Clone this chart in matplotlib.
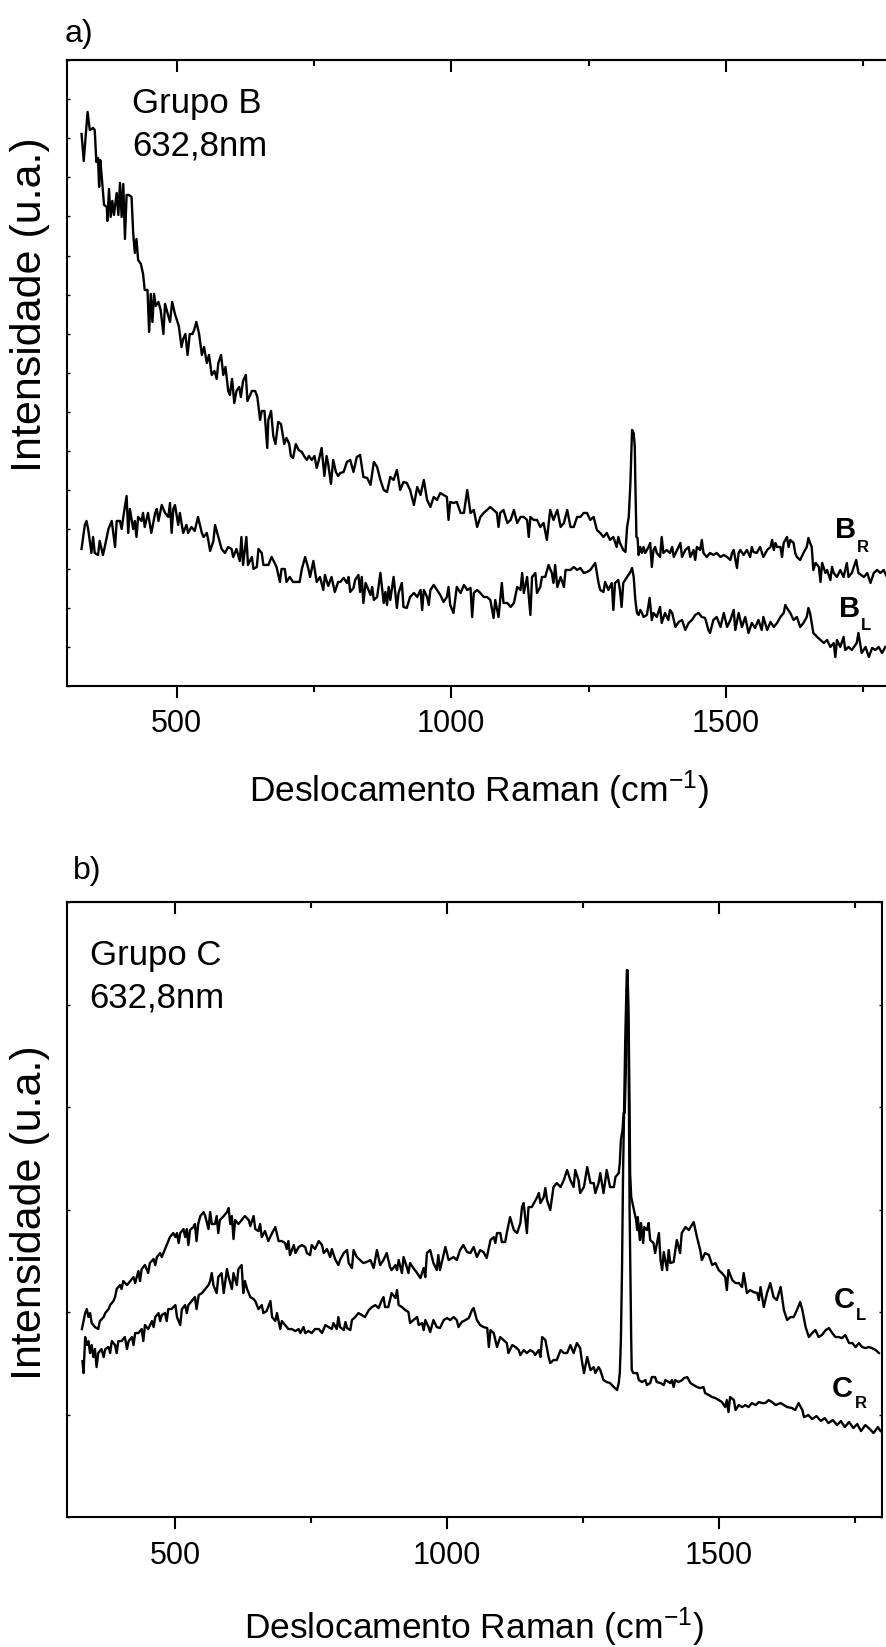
import numpy as np
import matplotlib
matplotlib.use('Agg')
import matplotlib.pyplot as plt
from matplotlib.ticker import FixedLocator

plt.rcParams['font.family'] = ['Liberation Sans', 'DejaVu Sans']
plt.rcParams['mathtext.fontset'] = 'custom'
plt.rcParams['mathtext.rm'] = 'Liberation Sans'
plt.rcParams['mathtext.it'] = 'Liberation Sans:italic'
plt.rcParams['mathtext.bf'] = 'Liberation Sans:bold'

# (Raman shift cm-1, intensity u.a.)
# Grupo B
b_r = np.array([
    (327, 552), (331, 525), (338, 574), (342, 556), (348, 558), (351, 556), (354, 524), (357, 528), (359, 499),
    (361, 526), (363, 514), (368, 481), (373, 479), (374, 465), (377, 497), (380, 469), (383, 485), (386, 471),
    (391, 493), (394, 471), (397, 503), (400, 469), (403, 502), (406, 447), (409, 491), (413, 491), (418, 489),
    (421, 453), (424, 433), (427, 447), (430, 426), (435, 422), (439, 412), (442, 396), (447, 396), (450, 354),
    (453, 392), (456, 364), (459, 392), (462, 380), (467, 384), (471, 376), (476, 352), (479, 382), (484, 372),
    (488, 364), (492, 384), (497, 372), (504, 360), (509, 339), (512, 347), (516, 352), (520, 331), (524, 352),
    (529, 352), (532, 356), (536, 364), (541, 352), (546, 331), (550, 339), (555, 323), (559, 331), (564, 311),
    (569, 315), (573, 307), (576, 323), (581, 331), (585, 311), (589, 319), (594, 295), (597, 291), (601, 307),
    (605, 283), (609, 295), (614, 299), (617, 289), (621, 305), (626, 311), (629, 285), (634, 291), (637, 295),
    (643, 295), (647, 289), (652, 266), (655, 275), (660, 275), (665, 238), (667, 266), (672, 275), (676, 250),
    (680, 242), (685, 264), (690, 262), (696, 242), (700, 248), (705, 242), (708, 230), (712, 228), (717, 242),
    (722, 236), (728, 234), (732, 230), (737, 226), (741, 230), (746, 226), (751, 230), (755, 218), (759, 226),
    (764, 238), (769, 210), (773, 230), (776, 222), (781, 202), (785, 226), (790, 214), (794, 210),
    (798, 213), (804, 214), (810, 224), (816, 226), (822, 214), (828, 229), (834, 231), (840, 209), (847, 208),
    (853, 201), (859, 224), (865, 219), (871, 206), (877, 196), (883, 194), (889, 209), (895, 206), (901, 216),
    (907, 196), (913, 204), (919, 203), (925, 196), (932, 181), (938, 199), (944, 191), (950, 206), (956, 186),
    (962, 179), (968, 189), (974, 186), (980, 193), (986, 191), (992, 189), (995, 166), (998, 184), (1004, 183),
    (1010, 184), (1017, 173), (1023, 173), (1029, 196), (1035, 173), (1041, 176), (1047, 159), (1053, 169),
    (1059, 173), (1065, 176), (1071, 179), (1077, 176), (1083, 173), (1086, 159), (1089, 173), (1095, 176),
    (1102, 163), (1108, 166), (1114, 176), (1120, 163), (1126, 169), (1132, 169), (1138, 166), (1141, 149),
    (1144, 169), (1150, 166), (1156, 166), (1162, 159), (1168, 163), (1174, 146), (1180, 176), (1186, 166),
    (1193, 176), (1199, 159), (1205, 163), (1211, 176), (1217, 159), (1223, 159), (1229, 169), (1235, 169),
    (1241, 173), (1247, 173), (1253, 166), (1259, 169), (1265, 156),
    (1271, 153), (1277, 149), (1283, 153), (1289, 146), (1295, 149), (1301, 139), (1304, 149), (1307, 143),
    (1313, 136), (1317, 134), (1320, 159), (1323, 169), (1326, 203), (1329, 256), (1332, 253), (1334, 239),
    (1335, 203), (1337, 149), (1339, 148), (1341, 131), (1344, 139), (1347, 133), (1350, 139), (1353, 133),
    (1356, 136), (1359, 139), (1362, 143), (1365, 119), (1368, 136), (1371, 139), (1374, 133), (1380, 129),
    (1383, 149), (1386, 133), (1392, 136), (1398, 133), (1402, 139), (1405, 129), (1411, 136), (1417, 143),
    (1420, 129), (1426, 136), (1432, 139), (1435, 129), (1441, 136), (1444, 126), (1447, 139), (1453, 136),
    (1456, 146), (1459, 133), (1465, 129), (1471, 133), (1477, 131), (1483, 133), (1490, 129), (1496, 131),
    (1502, 129), (1508, 126), (1511, 133), (1514, 136), (1520, 118), (1523, 133), (1526, 136), (1532, 131),
    (1538, 136), (1544, 129), (1547, 139), (1550, 134), (1556, 133), (1562, 139), (1568, 129), (1575, 136),
    (1581, 139), (1584, 146), (1587, 136), (1590, 143), (1593, 139), (1599, 139), (1602, 129), (1605, 143),
    (1611, 149), (1614, 139), (1617, 146), (1623, 143), (1626, 133), (1629, 129), (1635, 126), (1641, 133),
    (1647, 139), (1650, 148), (1653, 143), (1656, 139), (1659, 116), (1663, 123), (1669, 119), (1672, 104),
    (1675, 123), (1681, 113), (1684, 116), (1690, 106), (1693, 119), (1696, 113), (1702, 109), (1708, 116),
    (1714, 109), (1720, 123), (1723, 109), (1729, 113), (1737, 126), (1741, 113), (1751, 109), (1757, 113),
    (1763, 103), (1769, 113), (1775, 116), (1781, 113), (1787, 116), (1793, 109),
])

b_l = np.array([
    (327, 137), (333, 161), (336, 165), (339, 157), (345, 133), (348, 149), (351, 133), (357, 131), (360, 145),
    (366, 131), (370, 141), (376, 157), (382, 165), (388, 139), (391, 165), (397, 165), (400, 157), (403, 169),
    (409, 190), (412, 153), (415, 177), (421, 157), (424, 165), (427, 149), (430, 169), (436, 165), (439, 173),
    (442, 159), (448, 173), (454, 153), (461, 173), (464, 177), (467, 165), (473, 181), (479, 173), (485, 169),
    (488, 183), (491, 153), (494, 177), (497, 181), (503, 161), (506, 173), (512, 153), (518, 161), (521, 153),
    (527, 159), (533, 155), (539, 169), (546, 153), (549, 149), (555, 153), (558, 145), (561, 135), (567, 145),
    (570, 161), (576, 149), (582, 137), (588, 133), (594, 139), (600, 137), (603, 129), (609, 137), (615, 125),
    (618, 149), (621, 121), (627, 149), (630, 121), (637, 129), (640, 117), (646, 119), (649, 137), (655, 133),
    (658, 121), (667, 121), (673, 129), (682, 119), (688, 104), (691, 117), (697, 117), (700, 104), (706, 109),
    (712, 104), (718, 104), (724, 104), (728, 117), (734, 129), (740, 117), (743, 109), (749, 125), (755, 104),
    (761, 109), (767, 96), (770, 111), (776, 100), (782, 109), (788, 94), (794, 104),
    (798, 104), (804, 108), (810, 103), (813, 109), (816, 94), (822, 98), (825, 106), (831, 111), (834, 94),
    (837, 109), (840, 83), (844, 103), (853, 91), (856, 99), (859, 86), (865, 89), (871, 113), (877, 83),
    (880, 94), (883, 81), (886, 99), (889, 86), (895, 109), (901, 78), (904, 93), (910, 103), (913, 79),
    (919, 78), (925, 89), (932, 93), (938, 89), (944, 96), (947, 76), (950, 96), (956, 89), (959, 81), (962, 96),
    (968, 101), (974, 96), (980, 91), (986, 84), (992, 89), (995, 99), (998, 81), (1004, 73), (1010, 99),
    (1017, 93), (1023, 101), (1029, 96), (1035, 98), (1038, 69), (1041, 93), (1047, 96), (1053, 93), (1059, 89),
    (1065, 89), (1071, 86), (1077, 68), (1080, 86), (1086, 69), (1092, 103), (1095, 83), (1102, 83), (1108, 79),
    (1114, 83), (1120, 99), (1126, 96), (1129, 113), (1132, 93), (1138, 109), (1144, 71), (1147, 109),
    (1153, 113), (1156, 93), (1162, 99), (1165, 109), (1171, 109), (1177, 121), (1183, 113), (1186, 103),
    (1189, 121), (1193, 99), (1199, 109), (1205, 99), (1208, 116), (1217, 116), (1223, 119), (1229, 116),
    (1235, 118), (1241, 113), (1247, 114), (1253, 116), (1262, 123), (1268, 103),
    (1271, 96), (1277, 94), (1280, 104), (1286, 96), (1292, 103), (1295, 76), (1298, 103), (1304, 106),
    (1307, 96), (1310, 79), (1313, 103), (1320, 109), (1326, 114), (1329, 118), (1332, 109), (1335, 86),
    (1338, 73), (1341, 71), (1344, 76), (1347, 73), (1350, 69), (1356, 71), (1361, 88), (1365, 66), (1368, 73),
    (1374, 69), (1380, 79), (1383, 63), (1389, 73), (1395, 66), (1398, 76), (1402, 73), (1408, 59), (1414, 64),
    (1420, 66), (1426, 56), (1432, 63), (1438, 66), (1444, 71), (1450, 73), (1456, 69), (1462, 68), (1468, 56),
    (1471, 53), (1477, 66), (1483, 69), (1490, 59), (1496, 73), (1502, 59), (1508, 66), (1514, 76), (1517, 56),
    (1523, 73), (1529, 59), (1535, 69), (1541, 53), (1547, 63), (1553, 58), (1559, 66), (1565, 56), (1568, 69),
    (1575, 56), (1581, 64), (1587, 59), (1593, 63), (1599, 69), (1605, 73), (1608, 81), (1611, 78), (1617, 73),
    (1623, 66), (1629, 69), (1635, 59), (1641, 63), (1647, 69), (1650, 78), (1653, 73), (1659, 53), (1666, 49),
    (1672, 46), (1678, 43), (1684, 46), (1690, 39), (1696, 43), (1699, 29), (1702, 46), (1708, 39), (1714, 49),
    (1717, 36), (1723, 39), (1729, 36), (1738, 43), (1741, 53), (1747, 33), (1754, 39), (1760, 29), (1766, 38),
    (1772, 36), (1778, 39), (1784, 33), (1790, 39),
])

# Grupo C
c_l = np.array([
    (328, 188), (331, 196), (334, 204), (337, 208), (340, 200), (343, 204), (346, 194), (352, 190), (358, 188),
    (361, 196), (368, 200), (371, 204), (377, 208), (380, 212), (386, 216), (389, 220), (392, 228), (398, 232),
    (401, 228), (404, 236), (411, 232), (417, 236), (423, 240), (426, 234), (432, 246), (435, 236), (438, 248),
    (444, 252), (450, 244), (453, 254), (460, 258), (463, 252), (466, 260), (472, 264), (475, 260), (481, 268),
    (484, 272), (487, 276), (490, 280), (496, 284), (500, 280), (503, 284), (506, 274), (509, 284), (515, 288),
    (518, 280), (521, 288), (524, 272), (527, 287), (533, 290), (536, 293), (539, 276), (542, 293), (546, 301),
    (552, 305), (555, 301), (561, 288), (564, 305), (567, 293), (573, 293), (576, 301), (579, 284), (582, 297),
    (589, 301), (595, 305), (598, 309), (601, 293), (604, 301), (607, 278), (610, 297), (616, 293), (622, 297),
    (628, 301), (635, 297), (638, 291), (644, 301), (647, 288), (653, 286), (656, 293), (659, 280), (665, 286),
    (671, 276), (678, 284), (684, 290), (690, 276), (696, 276), (702, 274), (705, 268), (708, 276), (711, 262),
    (718, 272), (721, 264), (727, 270), (733, 272), (739, 270), (742, 264), (748, 262), (751, 272), (757, 268),
    (764, 276), (770, 272), (773, 264), (779, 268), (785, 260), (788, 268), (794, 258), (800, 252),
    (803, 257), (810, 264), (816, 267), (819, 254), (825, 249), (828, 267), (834, 260), (840, 257), (846, 254),
    (852, 255), (859, 257), (865, 249), (871, 267), (877, 252), (883, 257), (889, 264), (895, 250), (898, 247),
    (905, 252), (908, 247), (911, 257), (917, 244), (920, 260), (926, 250), (929, 244), (932, 254), (938, 249),
    (945, 244), (951, 239), (957, 249), (960, 240), (963, 264), (969, 267), (975, 254), (981, 247), (984, 262),
    (987, 247), (997, 270), (1003, 257), (1012, 260), (1018, 257), (1024, 267), (1030, 272), (1037, 265),
    (1043, 264), (1049, 270), (1055, 260), (1061, 267), (1067, 265), (1073, 259), (1080, 277), (1086, 280),
    (1089, 274), (1092, 284), (1098, 284), (1101, 275), (1107, 275), (1110, 284), (1116, 300), (1123, 287),
    (1129, 284), (1135, 294), (1138, 310), (1141, 314), (1147, 284), (1150, 310), (1156, 310), (1166, 320),
    (1169, 324), (1172, 314), (1178, 320), (1181, 329), (1184, 317), (1190, 307), (1196, 330), (1202, 334),
    (1209, 330), (1215, 337), (1221, 347), (1227, 337), (1233, 330), (1236, 347), (1242, 337), (1245, 324),
    (1252, 330), (1258, 350), (1264, 334), (1270, 334), (1273, 324), (1279, 334),
    (1282, 344), (1288, 324), (1294, 347), (1300, 330), (1307, 330), (1310, 340), (1316, 344), (1318, 354),
    (1320, 377), (1323, 387), (1325, 404), (1327, 404), (1329, 444), (1331, 510), (1332, 547), (1334, 510),
    (1336, 410), (1337, 344), (1339, 320), (1343, 310), (1348, 297), (1350, 287), (1351, 300), (1355, 277),
    (1357, 294), (1361, 274), (1363, 290), (1368, 287), (1371, 294), (1374, 277), (1380, 274), (1383, 264),
    (1390, 284), (1393, 257), (1396, 247), (1399, 265), (1405, 247), (1408, 267), (1411, 254), (1417, 255),
    (1423, 277), (1429, 264), (1432, 284), (1439, 290), (1445, 287), (1454, 295), (1460, 280), (1466, 267),
    (1469, 257), (1475, 264), (1482, 262), (1488, 252), (1494, 254), (1500, 247), (1506, 244), (1512, 240),
    (1515, 227), (1518, 247), (1525, 237), (1531, 234), (1537, 234), (1543, 230), (1546, 244), (1552, 224),
    (1558, 227), (1564, 225), (1571, 224), (1574, 217), (1577, 230), (1583, 210), (1589, 224), (1595, 234),
    (1601, 220), (1607, 217), (1614, 230), (1620, 207), (1626, 197), (1632, 200), (1638, 200), (1644, 207),
    (1650, 215), (1654, 207), (1660, 190), (1666, 180), (1672, 184), (1678, 187), (1684, 180), (1690, 182),
    (1697, 187), (1703, 189), (1709, 184), (1715, 180), (1721, 180), (1727, 179), (1733, 182), (1740, 174),
    (1746, 174), (1752, 170), (1758, 174), (1764, 170), (1770, 169), (1776, 170), (1782, 169), (1789, 167),
    (1795, 164),
])

c_r = np.array([
    (329, 156), (331, 144), (334, 180), (337, 172), (340, 176), (343, 164), (346, 172), (349, 160), (352, 168),
    (355, 150), (358, 164), (364, 168), (368, 160), (371, 168), (377, 170), (380, 164), (383, 176), (389, 172),
    (392, 164), (395, 176), (401, 176), (407, 180), (411, 168), (414, 176), (420, 180), (423, 172), (426, 184),
    (432, 184), (438, 188), (441, 176), (444, 192), (450, 188), (457, 196), (460, 190), (463, 200), (469, 204),
    (472, 196), (475, 202), (481, 204), (484, 196), (487, 208), (493, 208), (500, 212), (503, 200), (509, 192),
    (512, 208), (518, 212), (521, 204), (524, 212), (530, 216), (536, 220), (539, 208), (543, 222), (549, 224),
    (555, 228), (561, 232), (564, 236), (567, 244), (570, 232), (576, 224), (579, 240), (585, 244), (589, 224),
    (592, 236), (595, 248), (598, 240), (604, 228), (607, 244), (613, 232), (616, 248), (622, 252), (625, 224),
    (628, 236), (632, 228), (638, 220), (644, 218), (647, 216), (653, 208), (659, 212), (662, 204), (668, 206),
    (675, 216), (678, 200), (684, 196), (687, 204), (693, 188), (696, 196), (702, 192), (708, 188), (714, 188),
    (721, 186), (727, 188), (730, 184), (736, 190), (739, 184), (745, 186), (751, 184), (757, 188), (764, 188),
    (770, 184), (776, 192), (782, 190), (788, 188), (791, 194), (797, 188), (800, 200),
    (803, 190), (810, 187), (813, 195), (816, 189), (822, 187), (825, 197), (831, 200), (837, 204), (843, 202),
    (849, 200), (856, 207), (862, 210), (868, 212), (874, 209), (880, 217), (883, 220), (886, 210), (892, 210),
    (898, 224), (905, 219), (908, 227), (911, 212), (917, 210), (923, 207), (929, 205), (932, 194), (938, 197),
    (945, 200), (948, 192), (954, 194), (957, 187), (960, 197), (966, 190), (969, 185), (975, 197), (981, 190),
    (987, 189), (994, 197), (1000, 199), (1006, 197), (1012, 200), (1018, 197), (1021, 190), (1027, 195),
    (1034, 197), (1040, 199), (1046, 207), (1049, 209), (1055, 197), (1061, 192), (1067, 190), (1074, 189),
    (1077, 170), (1080, 187), (1086, 184), (1092, 170), (1098, 180), (1104, 177), (1110, 174), (1113, 164),
    (1120, 172), (1126, 170), (1132, 167), (1135, 162), (1141, 167), (1147, 164), (1153, 167), (1159, 165),
    (1162, 162), (1169, 167), (1172, 160), (1175, 180), (1181, 177), (1187, 160), (1190, 154), (1196, 157),
    (1202, 157), (1209, 167), (1215, 164), (1221, 164), (1227, 172), (1233, 164), (1239, 174), (1245, 169),
    (1248, 157), (1252, 144), (1258, 160), (1264, 147), (1270, 150), (1273, 144), (1279, 150),
    (1282, 147), (1288, 137), (1294, 135), (1300, 134), (1307, 130), (1313, 127), (1316, 134), (1318, 144),
    (1320, 177), (1322, 244), (1324, 344), (1326, 410), (1328, 477), (1330, 527), (1331, 547), (1334, 477),
    (1336, 310), (1339, 177), (1340, 147), (1343, 144), (1350, 144), (1353, 137), (1359, 135), (1365, 137),
    (1368, 132), (1374, 134), (1377, 140), (1383, 140), (1386, 135), (1393, 134), (1399, 132), (1402, 137),
    (1411, 134), (1414, 137), (1417, 130), (1420, 137), (1426, 135), (1433, 137), (1436, 139), (1442, 140),
    (1448, 134), (1454, 132), (1460, 130), (1466, 129), (1472, 130), (1475, 124), (1482, 122), (1488, 120),
    (1494, 119), (1500, 117), (1506, 115), (1512, 110), (1515, 117), (1518, 105), (1521, 120), (1528, 117),
    (1531, 107), (1537, 112), (1543, 110), (1549, 112), (1555, 110), (1561, 114), (1568, 112), (1574, 115),
    (1580, 114), (1586, 114), (1592, 117), (1598, 115), (1605, 112), (1614, 114), (1620, 112), (1626, 110),
    (1635, 109), (1641, 107), (1647, 114), (1654, 107), (1657, 100), (1665, 102), (1672, 98), (1680, 101),
    (1688, 96), (1695, 99), (1702, 94), (1710, 97), (1718, 92), (1725, 96), (1732, 90), (1740, 95), (1748, 89),
    (1755, 93), (1762, 86), (1770, 92), (1778, 88), (1785, 84), (1793, 90), (1798, 86),
])

x_major = [500, 1000, 1500]
x_minor = [750, 1250, 1750]
lw = 1.5


def style(ax, ytop, ndiv):
    ax.set_xlim(300, 1800)
    ax.set_ylim(0, ytop)
    for s in ax.spines.values():
        s.set_linewidth(lw)
    ax.xaxis.set_major_locator(FixedLocator(x_major))
    ax.xaxis.set_minor_locator(FixedLocator(x_minor))
    ax.tick_params(axis='x', which='major', direction='out', length=8.6, width=lw,
                   labelsize=22, pad=8.3)
    ax.tick_params(axis='x', which='minor', direction='out', length=4.3, width=lw)
    ax.set_yticks(np.linspace(0, ytop, ndiv + 1))
    ax.tick_params(axis='y', direction='in', length=2.5, width=1, left=True, right=True,
                   labelleft=False)
    top = ax.secondary_xaxis('top')
    top.xaxis.set_major_locator(FixedLocator(x_major))
    top.xaxis.set_minor_locator(FixedLocator(x_minor))
    top.tick_params(which='major', direction='in', length=8.6, width=lw, labeltop=False)
    top.tick_params(which='minor', direction='in', length=4.3, width=lw)
    top.spines['top'].set_linewidth(lw)


fig = plt.figure(figsize=(8.87, 16.47), dpi=100)

# a) Grupo B
ax1 = fig.add_axes([0.0752, 0.5835, 0.9291, 0.3801])
style(ax1, 626, 16)
ax1.plot(b_r[:, 0], b_r[:, 1], color='black', lw=1.7)
ax1.plot(b_l[:, 0], b_l[:, 1], color='black', lw=1.7)
ax1.text(419, 573, 'Grupo B', fontsize=25, va='baseline')
ax1.text(419, 530, '632,8nm', fontsize=25, va='baseline')
ax1.text(1699, 148, 'B', fontsize=21, fontweight='bold', va='baseline')
ax1.text(1739, 134, 'R', fontsize=12, fontweight='bold', va='baseline')
ax1.text(1705, 69, 'B', fontsize=21, fontweight='bold', va='baseline')
ax1.text(1745, 56, 'L', fontsize=12, fontweight='bold', va='baseline')
ax1.set_xlabel('Deslocamento Raman (cm$^{-1}$)', fontsize=25.5, va='center')
ax1.xaxis.set_label_coords(0.5, -0.166)

# b) Grupo C
ax2 = fig.add_axes([0.0752, 0.0789, 0.9188, 0.3734])
style(ax2, 615, 6)
ax2.plot(c_l[:, 0], c_l[:, 1], color='black', lw=1.7)
ax2.plot(c_r[:, 0], c_r[:, 1], color='black', lw=1.7)
ax2.text(342, 552, 'Grupo C', fontsize=25, va='baseline')
ax2.text(342, 510, '632,8nm', fontsize=25, va='baseline')
ax2.text(1711, 209, 'C', fontsize=21, fontweight='bold', va='baseline')
ax2.text(1752, 197, 'L', fontsize=12, fontweight='bold', va='baseline')
ax2.text(1709, 120, 'C', fontsize=21, fontweight='bold', va='baseline')
ax2.text(1750, 109, 'R', fontsize=12, fontweight='bold', va='baseline')
ax2.set_xlabel('Deslocamento Raman (cm$^{-1}$)', fontsize=25.5, va='center')
ax2.xaxis.set_label_coords(0.5, -0.180)

fig.text(30 / 887, 1 - 305 / 1647, 'Intensidade (u.a.)', fontsize=31, rotation=90,
         ha='center', va='center')
fig.text(30 / 887, 1 - 1213 / 1647, 'Intensidade (u.a.)', fontsize=31, rotation=90,
         ha='center', va='center')
fig.text(65 / 887, 1 - 42 / 1647, 'a)', fontsize=23, va='baseline')
fig.text(73 / 887, 1 - 879 / 1647, 'b)', fontsize=23, va='baseline')

fig.savefig('out.png', dpi=100)
